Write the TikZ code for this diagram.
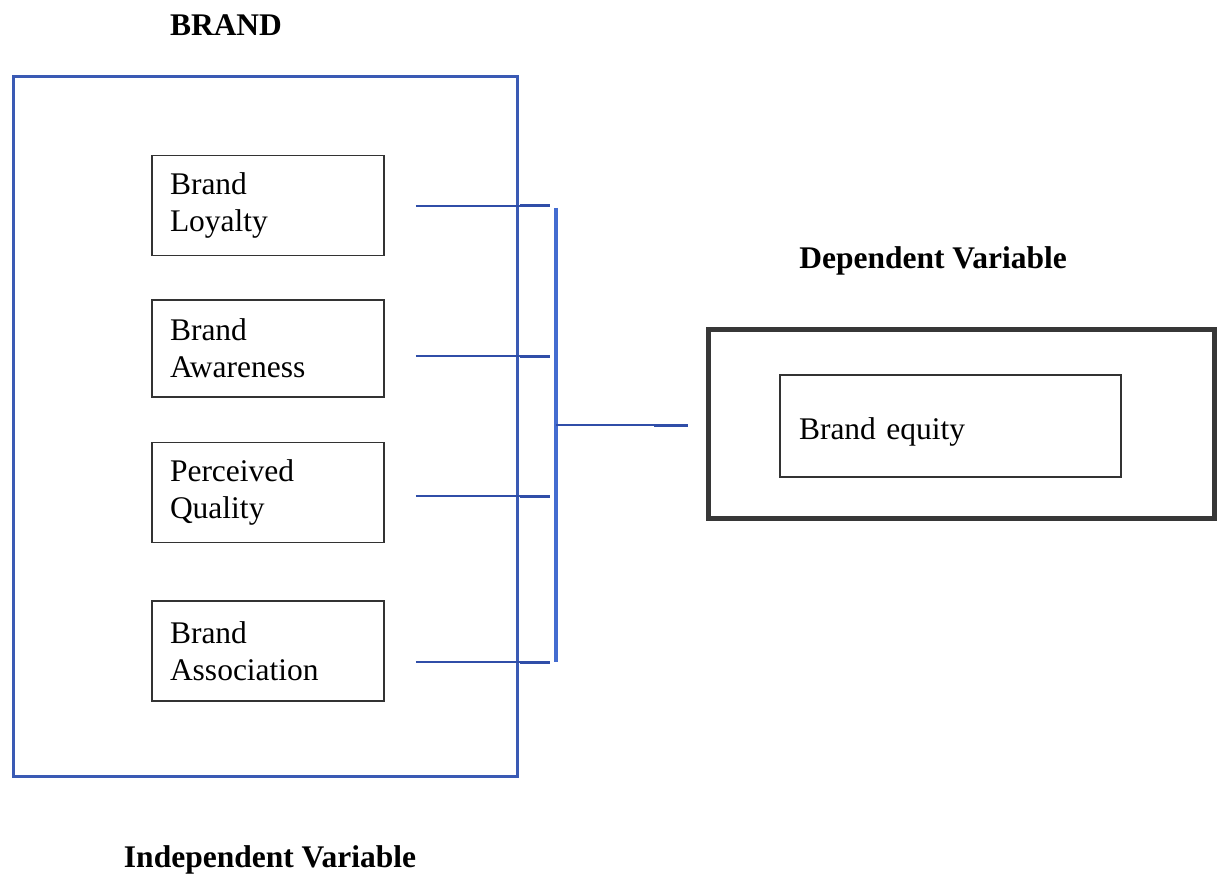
\documentclass[tikz,border=0pt]{standalone}
\usepackage{fontspec}
\setmainfont{Liberation Serif}
\usetikzlibrary{positioning}
\definecolor{frameblue}{RGB}{58,90,180}
\definecolor{lineblue}{RGB}{48,78,168}
\definecolor{barblue}{RGB}{68,108,208}
\definecolor{darkframe}{RGB}{55,55,55}
\tikzset{
  varbox/.style={draw=black!80, line width=1.5pt, minimum width=232, minimum height=100,
    text width=196, inner xsep=18, align=left, font=\fontsize{31.5}{37}\selectfont},
  title/.style={font=\fontsize{31.5}{37}\selectfont\bfseries},
  link/.style={draw=lineblue, line width=2pt},
  stub/.style={draw=lineblue, line width=3pt}
}
\begin{document}
\begin{tikzpicture}[x=1pt,y=-1pt]
\useasboundingbox (0,0) rectangle (1222,877);
% independent side
\node [draw=frameblue, line width=3pt, minimum width=504, minimum height=699] (brandbox) at (265,426.5) {};
\node [title] (brandlbl) at (226,25) {BRAND};
\node [title] (indeplbl) at (270,860) {Independent Variable};
\node [varbox] (loyal) at (268,205.5) {Brand\\Loyalty};
\node [varbox, minimum height=97] (aware) at (268,348.5) {Brand\\Awareness};
\node [varbox] (quality) at (268,492.5) {Perceived\\Quality};
\node [varbox] (assoc) at (268,651) {Brand\\Association};
% dependent side
\node [title] (deplbl) at (933,261) {Dependent Variable};
\node [draw=darkframe, line width=5pt, minimum width=506, minimum height=189] (depbox) at (961,423.5) {};
\node [draw=black!80, line width=1.5pt, minimum width=341, minimum height=102, text width=303,
  text height=28, text depth=1, inner xsep=19, align=left,
  font=\fontsize{31.5}{37}\selectfont] (equity) at (950.5,426) {Brand equity};
% bracket
\coordinate (bartop) at (556,208);
\coordinate (barbot) at (556,662);
\coordinate (barmid) at (556,425);
\draw [draw=barblue, line width=3.5pt] (bartop) -- (barbot);
\foreach \src/\yy in {loyal/206, aware/356, quality/496, assoc/662} {
  \coordinate (j-\src) at (550,\yy);
  \draw [link] ([xshift=31]\src.east |- j-\src) -- (j-\src);
  \draw [stub] ([xshift=-30]j-\src) -- (j-\src);
}
\coordinate (tip) at ([xshift=-18]depbox.west |- barmid);
\draw [link] (barmid) -- (tip);
\draw [stub] ([xshift=-34]tip) -- (tip);
\end{tikzpicture}
\end{document}
